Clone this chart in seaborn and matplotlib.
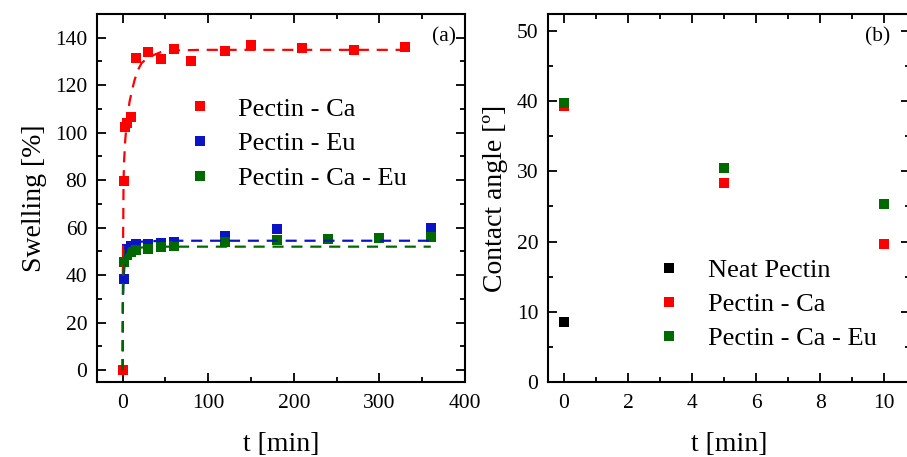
import matplotlib
matplotlib.use("Agg")
import matplotlib.pyplot as plt
import pandas as pd
import seaborn as sns
from matplotlib.lines import Line2D
from matplotlib.ticker import MultipleLocator

sns.set_theme(style="ticks")
plt.rcParams["font.family"] = ["Liberation Serif", "DejaVu Serif"]
plt.rcParams["text.color"] = "black"
plt.rcParams["axes.labelcolor"] = "black"
plt.rcParams["xtick.color"] = "black"
plt.rcParams["ytick.color"] = "black"

RED = "#ff0000"
BLUE = "#0a14c4"
GREEN = "#006a00"
BLACK = "#000000"

# ---- (a) swelling kinetics ----
ca_t = [0, 1, 3, 5, 10, 15, 30, 45, 60, 80, 120, 150, 210, 270, 330]
ca_sw = [0, 79.8, 102.2, 104.3, 106.6, 131.4, 133.8, 130.9, 135.4, 130.3,
         134.5, 137.1, 135.6, 134.8, 136.1]

eu_t = [1, 5, 10, 15, 30, 45, 60, 120, 180, 360]
eu_sw = [38.2, 51.0, 52.3, 53.0, 53.2, 53.4, 54.0, 56.5, 59.3, 59.8]

caeu_t = [1, 5, 10, 15, 30, 45, 60, 120, 180, 240, 300, 360]
caeu_sw = [45.7, 48.6, 49.8, 50.5, 51.2, 51.7, 52.3, 53.8, 54.8, 55.2, 55.8, 56.0]

# fitted kinetic curves
ca_fit_t = [0, 0.3, 1, 1.5, 3, 5, 8, 11, 14, 18, 22, 30, 45, 60, 90, 330]
ca_fit = [0, 45, 78, 87, 97, 105, 113, 118, 122.3, 126.5, 129.3, 131.8,
          134.0, 134.6, 134.9, 134.9]
eu_fit_t = [0, 0.3, 1, 2.3, 4.3, 8, 12, 18, 30, 45, 60, 360]
eu_fit = [0, 30, 38, 45, 51.3, 52.8, 53.5, 54.0, 54.3, 54.4, 54.5, 54.5]
caeu_fit_t = [0, 0.3, 1, 2, 4, 8, 12, 18, 30, 45, 60, 360]
caeu_fit = [0, 30, 42, 46, 48.5, 50.3, 51.0, 51.5, 51.9, 52.0, 52.0, 52.0]

swell_names = ["Pectin - Ca", "Pectin - Eu", "Pectin - Ca - Eu"]
swell_colors = [RED, BLUE, GREEN]

# ---- (b) contact angle ----
ang_t = [0, 5, 10]
neat_ang = [8.6]
ca_ang = [39.3, 28.4, 19.7]
caeu_ang = [39.7, 30.5, 25.3]
angle_names = ["Neat Pectin", "Pectin - Ca", "Pectin - Ca - Eu"]
angle_colors = [BLACK, RED, GREEN]

swell_df = pd.concat([
    pd.DataFrame({"t": ca_t, "y": ca_sw, "s": swell_names[0]}),
    pd.DataFrame({"t": eu_t, "y": eu_sw, "s": swell_names[1]}),
    pd.DataFrame({"t": caeu_t, "y": caeu_sw, "s": swell_names[2]}),
], ignore_index=True)
fit_df = [
    pd.DataFrame({"t": ca_fit_t, "y": ca_fit}),
    pd.DataFrame({"t": eu_fit_t, "y": eu_fit}),
    pd.DataFrame({"t": caeu_fit_t, "y": caeu_fit}),
]
angle_df = pd.concat([
    pd.DataFrame({"t": ang_t[:1], "y": neat_ang, "s": angle_names[0]}),
    pd.DataFrame({"t": ang_t, "y": ca_ang, "s": angle_names[1]}),
    pd.DataFrame({"t": ang_t, "y": caeu_ang, "s": angle_names[2]}),
], ignore_index=True)

W, H = 907, 457
fig = plt.figure(figsize=(W / 100, H / 100), dpi=100)
ax1 = fig.add_axes([97 / W, 1 - 382 / H, (465 - 97) / W, (382 - 14) / H])
ax2 = fig.add_axes([548 / W, 1 - 382 / H, (910 - 548) / W, (382 - 14) / H])

MS = 56
for name, col in zip(swell_names, swell_colors):
    sub = swell_df[swell_df["s"] == name]
    sns.scatterplot(data=sub, x="t", y="y", color=col, marker="s", s=MS,
                    linewidth=0, ax=ax1, legend=False, zorder=2)
for fd, col in zip(fit_df, swell_colors):
    sns.lineplot(data=fd, x="t", y="y", color=col, estimator=None, sort=False,
                 linestyle=(0, (5, 3.5)), linewidth=1.6, ax=ax1, zorder=3)

for name, col in zip(angle_names, angle_colors):
    sub = angle_df[angle_df["s"] == name]
    sns.scatterplot(data=sub, x="t", y="y", color=col, marker="s", s=MS,
                    linewidth=0, ax=ax2, legend=False, zorder=2)

ax1.set_xlim(-30, 400)
ax1.set_ylim(-5, 150)
ax1.xaxis.set_major_locator(MultipleLocator(100))
ax1.xaxis.set_minor_locator(MultipleLocator(50))
ax1.yaxis.set_major_locator(MultipleLocator(20))
ax1.yaxis.set_minor_locator(MultipleLocator(10))

ax2.set_xlim(-0.5, 10.8)
ax2.set_ylim(0, 52.4)
ax2.xaxis.set_major_locator(MultipleLocator(2))
ax2.xaxis.set_minor_locator(MultipleLocator(1))
ax2.yaxis.set_major_locator(MultipleLocator(10))
ax2.yaxis.set_minor_locator(MultipleLocator(5))

for ax in (ax1, ax2):
    for sp in ax.spines.values():
        sp.set_linewidth(1.5)
        sp.set_color("black")
    ax.tick_params(which="both", direction="in", top=True, right=True,
                   color="black", width=1.3, labelsize=15.5, labelcolor="black")
    ax.tick_params(which="major", length=6.5)
    ax.tick_params(which="minor", length=3.6)
    ax.tick_params(axis="y", pad=7)
    ax.tick_params(axis="x", pad=9)
    ax.set_xlabel("t [min]", fontsize=20, labelpad=13, color="black")

ax1.set_ylabel("Swelling [%]", fontsize=20, labelpad=6, color="black")
ax2.set_ylabel("Contact angle [º]", fontsize=20, labelpad=6, color="black")

ax1.text(0.975, 0.965, "(a)", transform=ax1.transAxes, ha="right", va="top",
         fontsize=15.5)
ax2.text(0.945, 0.965, "(b)", transform=ax2.transAxes, ha="right", va="top",
         fontsize=15.5)


def make_handles(colors):
    return [Line2D([], [], linestyle="none", marker="s", markersize=6.8,
                   markerfacecolor=c, markeredgewidth=0) for c in colors]


ax1.legend(make_handles(swell_colors), swell_names, loc="upper left",
           bbox_to_anchor=(0.2, 0.803), frameon=False, fontsize=19,
           handletextpad=0.77, labelspacing=0.43, handlelength=1.4,
           borderaxespad=0)
ax2.legend(make_handles(angle_colors), angle_names, loc="upper left",
           bbox_to_anchor=(0.255, 0.363), frameon=False, fontsize=19,
           handletextpad=0.77, labelspacing=0.40, handlelength=1.4,
           borderaxespad=0)

fig.savefig("out.png", dpi=100)
